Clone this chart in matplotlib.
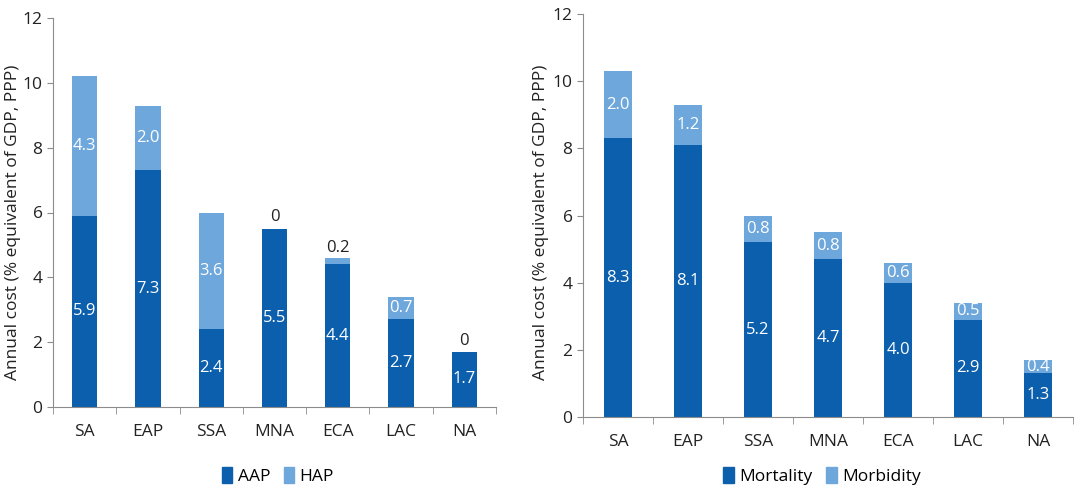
import numpy as np
import matplotlib.pyplot as plt
from matplotlib.patches import Patch

regions = ['SA', 'EAP', 'SSA', 'MNA', 'ECA', 'LAC', 'NA']
aap = [5.9, 7.3, 2.4, 5.5, 4.4, 2.7, 1.7]
hap = [4.3, 2.0, 3.6, 0.0, 0.2, 0.7, 0.0]
mortality = [8.3, 8.1, 5.2, 4.7, 4.0, 2.9, 1.3]
morbidity = [2.0, 1.2, 0.8, 0.8, 0.6, 0.5, 0.4]

DARK = '#0b5fad'
LIGHT = '#6ea7dc'
GREY = '#8c8c8c'
INK = '#222222'

plt.rcParams['font.family'] = ['Open Sans', 'DejaVu Sans']

W, H = 1084, 504
fig = plt.figure(figsize=(W / 100, H / 100), dpi=100)
ax1 = fig.add_axes([53 / W, 1 - 407 / H, 443 / W, 389 / H])
ax2 = fig.add_axes([583 / W, 1 - 417 / H, 490 / W, 403 / H])


def draw(ax, bottom, top, names, label_x, legend_x, small_above=0.3):
    x = np.arange(len(regions))
    ax.bar(x, bottom, width=0.4, color=DARK)
    ax.bar(x, top, width=0.4, bottom=bottom, color=LIGHT)
    for i in x:
        b, t = bottom[i], top[i]
        ax.text(i, b / 2, '{:.1f}'.format(b), ha='center', va='center',
                color='white', fontsize=12)
        if t == 0:
            ax.text(i, b + 0.1, '0', ha='center', va='bottom', fontsize=12,
                    color=INK)
        elif t < small_above:
            ax.text(i, b + t + 0.05, '{:.1f}'.format(t), ha='center',
                    va='bottom', fontsize=12, color=INK)
        else:
            ax.text(i, b + t / 2, '{:.1f}'.format(t), ha='center',
                    va='center', color='white', fontsize=12)
    ax.set_xlim(-0.5, len(regions) - 0.5)
    ax.set_ylim(0, 12)
    ax.set_yticks(range(0, 13, 2))
    ax.set_xticks(x)
    ax.set_xticklabels(regions)
    ax.set_xticks(np.arange(-0.5, len(regions)), minor=True)
    ax.tick_params(axis='x', which='major', length=0, pad=12, labelsize=12.5,
                   labelcolor=INK)
    ax.tick_params(axis='x', which='minor', length=5, color=GREY)
    ax.tick_params(axis='y', length=4, color=GREY, labelsize=12.5,
                   labelcolor=INK)
    for s in ['top', 'right']:
        ax.spines[s].set_visible(False)
    for s in ['left', 'bottom']:
        ax.spines[s].set_color(GREY)
    fig.text(label_x / W, 1 - 222 / H, 'Annual cost (% equivalent of GDP, PPP)',
             rotation=90, ha='center', va='center', fontsize=12.5, color=INK)
    handles = [Patch(color=DARK), Patch(color=LIGHT)]
    fig.legend(handles, names, loc='center', bbox_to_anchor=(legend_x / W, 1 - 476 / H),
               ncol=2, frameon=False, fontsize=12.5, handlelength=0.6,
               handleheight=1.0, handletextpad=0.3, columnspacing=0.8)


draw(ax1, aap, hap, ['AAP', 'HAP'], 13, 278)
draw(ax2, mortality, morbidity, ['Mortality', 'Morbidity'], 541, 822,
     small_above=0.1)

fig.savefig('out.png', dpi=100)
